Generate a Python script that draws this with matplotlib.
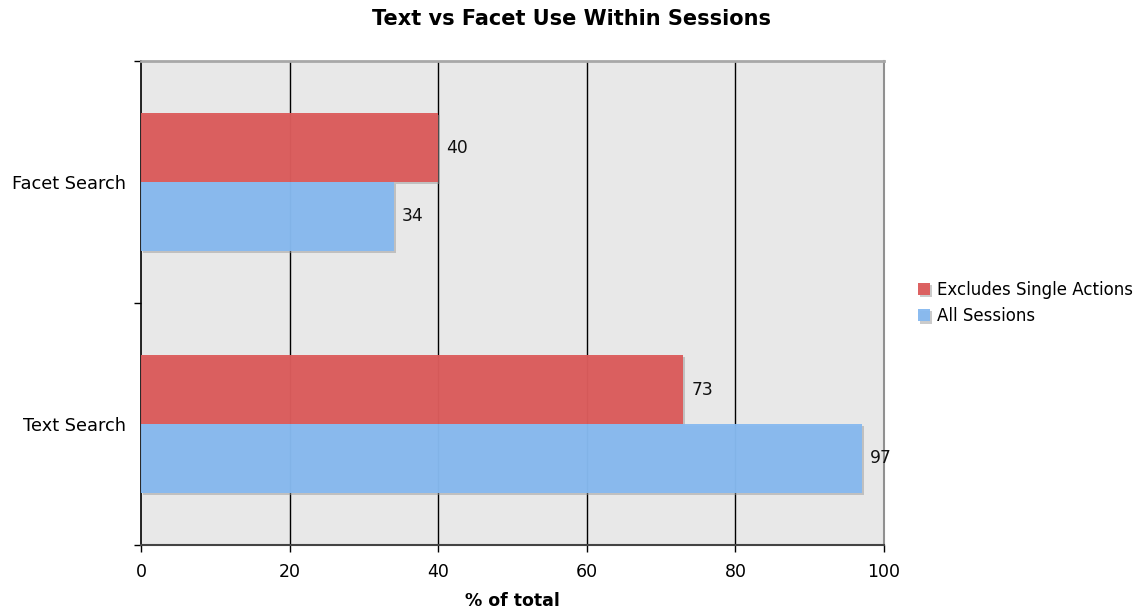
import matplotlib
matplotlib.use("Agg")
import matplotlib.pyplot as plt
import matplotlib.patheffects as pe
import numpy as np

categories = ["Text Search", "Facet Search"]
series_names = ["Excludes Single Actions", "All Sessions"]
excludes_single = [73, 40]
all_sessions = [97, 34]
x_ticks = [0, 20, 40, 60, 80, 100]

red = "#dc5a5a"
blue = "#86b9f0"

plt.rcParams["font.family"] = ["DejaVu Sans"]

fig = plt.figure(figsize=(11.42, 6.09), dpi=100)
ax = fig.add_axes([0.1235, 0.1051, 0.6506, 0.7947])
ax.set_facecolor("#e8e8e8")

y = np.arange(len(categories))
h = 0.285
shadow = [pe.SimplePatchShadow(offset=(1.5, -1.5), shadow_rgbFace="#999999", alpha=0.5), pe.Normal()]

bars_red = ax.barh(y + h / 2, excludes_single, height=h, color=red, alpha=0.95,
                   label=series_names[0], zorder=3, path_effects=shadow)
bars_blue = ax.barh(y - h / 2, all_sessions, height=h, color=blue, alpha=0.95,
                    label=series_names[1], zorder=3, path_effects=shadow)

for bars, vals in ((bars_red, excludes_single), (bars_blue, all_sessions)):
    for b, v in zip(bars, vals):
        ax.annotate(f"{v}", (v, b.get_y() + b.get_height() / 2), xytext=(6, 0),
                    textcoords="offset points", va="center", ha="left",
                    fontsize=12.3, color="#111111", zorder=4)

ax.set_xlim(0, 100)
ax.set_ylim(-0.5, len(categories) - 0.5)
ax.set_xticks(x_ticks)
ax.set_xticklabels([str(t) for t in x_ticks], fontsize=12.5)
ax.set_yticks(y)
ax.set_yticklabels(categories, fontsize=12.8)
ax.tick_params(axis="y", length=0, pad=11)
ax.set_yticks(np.arange(-0.5, len(categories), 1.0), minor=True)
ax.tick_params(axis="y", which="minor", length=5, width=1, color="black")
ax.tick_params(axis="x", length=5, width=1, color="black", pad=8)

for xv in x_ticks[1:-1]:
    ax.axvline(xv, color="black", lw=1, zorder=1)

ax.spines["left"].set_color("black")
ax.spines["left"].set_linewidth(1.2)
ax.spines["bottom"].set_color("#444444")
ax.spines["bottom"].set_linewidth(1.5)
ax.spines["top"].set_color("#a8a8a8")
ax.spines["top"].set_linewidth(2)
ax.spines["right"].set_color("#909090")
ax.spines["right"].set_linewidth(1.5)

ax.set_xlabel("% of total", fontsize=12.5, fontweight="bold", labelpad=8)
fig.suptitle("Text vs Facet Use Within Sessions", x=0.5, y=0.985,
             fontsize=15, fontweight="bold")

leg = ax.legend(loc="center left", bbox_to_anchor=(1.025, 0.5), frameon=False,
                fontsize=12, handlelength=0.75, handleheight=0.75,
                handletextpad=0.4, labelspacing=0.5)

fig.savefig("out.png", dpi=100)
